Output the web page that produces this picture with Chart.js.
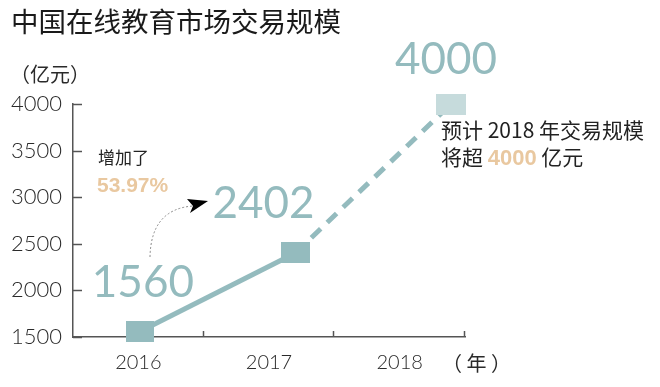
<!DOCTYPE html>
<html>
<head>
<meta charset="utf-8">
<script src="https://cdn.jsdelivr.net/npm/chart.js@4"></script>
<style>
html,body{margin:0;padding:0;background:#fff;}
#wrap{width:660px;height:387px;position:relative;}
</style>
</head>
<body>
<div id="wrap"><canvas id="c" width="660" height="387"></canvas></div>
<script>
// ---- data ----
const categories = ['2016', '2017', '2018'];
const yearValues = [2016, 2017, 2018];
const marketSize = [1560, 2402, 4000];
const yTickMin = 1500;
const yTickMax = 4000;
const yTickStep = 500;
const growthText = '53.97%';

const TEAL = '#94bbbe';
const TEAL_LIGHT = '#c6dbdc';
const BEIGE = '#e9c8a0';
const TEXT = '#2a2a2a';
const CJK = '"Noto Sans CJK SC", "Noto Sans", sans-serif';
const NUM = 'Lato, "Open Sans", "Noto Sans", sans-serif';

function makeRect(w, h, color) {
  const cv = document.createElement('canvas');
  cv.width = w; cv.height = h;
  const g = cv.getContext('2d');
  g.fillStyle = color;
  g.fillRect(0, 0, w, h);
  return cv;
}
const markers = [makeRect(28, 21, TEAL), makeRect(29, 21, TEAL), makeRect(30, 21, TEAL_LIGHT)];

const points = yearValues.map((x, i) => ({ x: x, y: marketSize[i] }));

const decor = {
  id: 'decor',
  beforeDatasetsDraw(chart) {
    const ctx = chart.ctx;
    const xs = chart.scales.x, ys = chart.scales.y;
    ctx.save();
    ctx.strokeStyle = '#555';
    ctx.lineWidth = 1.5;
    ys.ticks.forEach(t => {
      const py = Math.round(ys.getPixelForValue(t.value)) + 0.5;
      ctx.beginPath();
      ctx.moveTo(xs.left, py);
      ctx.lineTo(xs.left + 9, py);
      ctx.stroke();
    });
    const half = (xs.getPixelForValue(1) - xs.getPixelForValue(0)) / 2;
    for (let i = 0; i < categories.length; i++) {
      const px = Math.round(xs.getPixelForValue(i) + half) - 0.5;
      ctx.beginPath();
      ctx.moveTo(px, ys.bottom);
      ctx.lineTo(px, ys.bottom - 6);
      ctx.stroke();
    }
    ctx.restore();
  },
  afterDraw(chart) {
    const ctx = chart.ctx;
    const xs = chart.scales.x;
    const p = chart.getDatasetMeta(0).data;
    ctx.save();
    // title
    ctx.fillStyle = '#1a1a1a';
    ctx.font = '27.5px ' + CJK;
    ctx.textBaseline = 'middle';
    ctx.textAlign = 'left';
    ctx.fillText('中国在线教育市场交易规模', 11, 22);
    // y unit
    ctx.fillStyle = TEXT;
    ctx.font = '20px ' + CJK;
    ctx.fillText('（亿元）', 10, 74);
    // x unit
    ctx.font = '20px ' + CJK;
    ctx.fillText('（ 年 ）', xs.right - 23, 363);

    // big value labels
    ctx.fillStyle = TEAL;
    ctx.font = '44px ' + NUM;
    ctx.textAlign = 'center';
    ctx.textBaseline = 'alphabetic';
    const offs = [[3, -34], [-32, -35], [-5, -30]];
    p.forEach((pt, i) => {
      ctx.fillText(String(marketSize[i]), pt.x + offs[i][0], pt.y + offs[i][1]);
    });

    // growth annotation
    ctx.textAlign = 'left';
    ctx.fillStyle = '#222';
    ctx.font = '17px ' + CJK;
    ctx.fillText('增加了', 98, 164);
    ctx.fillStyle = BEIGE;
    ctx.font = 'bold 21px "Liberation Sans", Arial, sans-serif';
    ctx.fillText(growthText, 97, 192);

    // dotted curved arrow
    ctx.strokeStyle = '#8a8a8a';
    ctx.lineWidth = 1;
    ctx.setLineDash([2, 2]);
    ctx.beginPath();
    ctx.moveTo(150, 257);
    ctx.quadraticCurveTo(151, 209, 193, 206);
    ctx.stroke();
    ctx.setLineDash([]);
    ctx.fillStyle = '#000';
    ctx.beginPath();
    ctx.moveTo(208, 201);
    ctx.lineTo(187, 199);
    ctx.lineTo(193, 206);
    ctx.lineTo(190, 213);
    ctx.closePath();
    ctx.fill();

    // forecast annotation
    ctx.fillStyle = '#222';
    ctx.font = '21px ' + CJK;
    ctx.fillText('预计 2018 年交易规模', 441, 138);
    let x0 = 441;
    const y2 = 165;
    ctx.fillText('将超 ', x0, y2);
    x0 += ctx.measureText('将超 ').width;
    ctx.fillStyle = BEIGE;
    ctx.font = 'bold 22px "Liberation Sans", Arial, sans-serif';
    ctx.fillText(String(marketSize[2]), x0, y2);
    x0 += ctx.measureText(String(marketSize[2])).width;
    ctx.fillStyle = '#222';
    ctx.font = '21px ' + CJK;
    ctx.fillText(' 亿元', x0, y2);
    ctx.restore();
  }
};

new Chart(document.getElementById('c'), {
  type: 'line',
  data: {
    labels: categories,
    datasets: [{
      data: points,
      xAxisID: 'xd',
      yAxisID: 'y',
      borderColor: TEAL,
      borderWidth: 5,
      pointStyle: markers,
      pointRadius: 12,
      clip: false,
      tension: 0,
      segment: {
        borderDash: c => c.p0DataIndex === 1 ? [13, 9] : undefined
      }
    }]
  },
  options: {
    responsive: false,
    animation: false,
    events: [],
    layout: { padding: { top: 104, right: 195, left: 0, bottom: 0 } },
    plugins: { legend: { display: false }, tooltip: { enabled: false } },
    scales: {
      x: {
        type: 'category',
        position: 'bottom',
        offset: true,
        grid: { display: false, drawTicks: false },
        border: { display: true, color: '#555', width: 1.5 },
        ticks: { color: TEXT, padding: 14, font: { size: 20, family: NUM, weight: '300' } },
        afterFit: s => { s.height = 50; }
      },
      xd: {
        type: 'linear',
        display: false,
        min: 2015.57,
        max: 2018.09
      },
      y: {
        min: yTickMin,
        max: yTickMax,
        grid: { display: false, drawTicks: false },
        border: { display: true, color: '#555', width: 1.5 },
        ticks: {
          stepSize: yTickStep, color: TEXT, padding: 11,
          font: { size: 22, family: NUM, weight: '300' },
          callback: v => String(v)
        },
        afterFit: s => { s.width = 73; }
      }
    }
  },
  plugins: [decor]
});
</script>
</body>
</html>
